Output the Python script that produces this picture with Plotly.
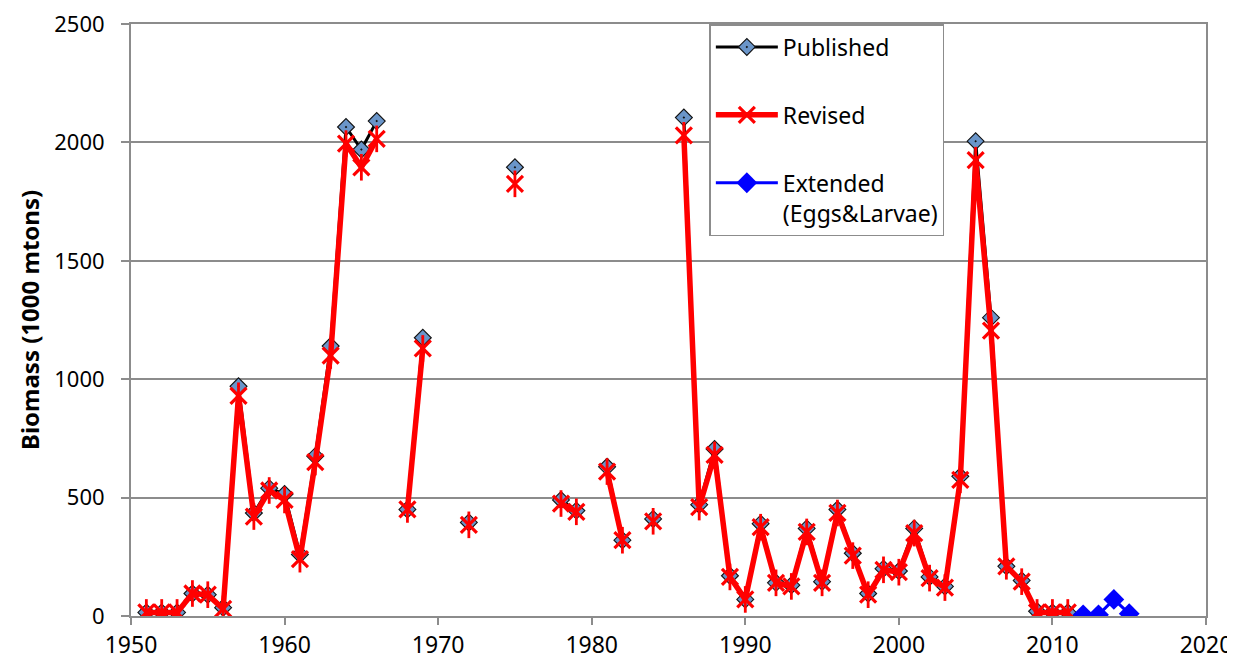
import plotly.graph_objects as go

years = list(range(1951, 2012))

published = [15, 15, 15, 95, 90, 35, 970, 435, 540, 515, 260, 675, 1140, 2065, 1970, 2090,
             None, 450, 1175, None, None, 395, None, None, 1895, None, None, 490, 445, None,
             630, 320, None, 410, None, 2105, 470, 705, 170, 70, 390, 140, 130, 370, 145,
             450, 265, 95, 200, 190, 370, 165, 125, 590, 2005, 1260, 210, 150, 20, 15, 15]

revised = [15, 15, 15, 95, 90, 30, 930, 420, 530, 490, 240, 650, 1100, 1995, 1895, 2015,
           None, 450, 1130, None, None, 385, None, None, 1825, None, None, 475, 440, None,
           610, 320, None, 400, None, 2030, 460, 680, 165, 70, 375, 140, 125, 355, 140,
           435, 255, 90, 195, 185, 350, 160, 120, 575, 1925, 1205, 210, 145, 15, 15, 15]

ext_years = [2012, 2013, 2014, 2015]
extended = [5, 5, 70, 10]

FONT = "Noto Sans"
GRID = "#8c8c8c"
RED = "#ff0000"

fig = go.Figure()

fig.add_trace(go.Scatter(
    x=years, y=published, name="Published", mode="lines+markers",
    line=dict(color="black", width=3), connectgaps=False,
    marker=dict(symbol="diamond-dot", size=13, color="#6a95c9",
                line=dict(color="#111111", width=1.1)),
    legendgroup="a"))

fig.add_trace(go.Scatter(
    x=years, y=revised, name="Revised", mode="lines+markers",
    line=dict(color=RED, width=5.5), connectgaps=False,
    marker=dict(symbol="x-thin-open", size=16, color=RED,
                line=dict(color=RED, width=3.2)),
    legendgroup="b"))

fig.add_trace(go.Scatter(
    x=years, y=revised, name="Revised", mode="markers", showlegend=False,
    marker=dict(symbol="line-ns-open", size=19, color=RED,
                line=dict(color=RED, width=2.8)),
    legendgroup="b", hoverinfo="skip"))

fig.add_trace(go.Scatter(
    x=ext_years, y=extended, name="Extended<br>(Eggs&Larvae)", mode="lines+markers",
    line=dict(color="#0000ff", width=3),
    marker=dict(symbol="diamond", size=16, color="#0000ff"),
    legendgroup="c"))

fig.update_layout(
    width=1235, height=662,
    margin=dict(l=123, r=37, t=16, b=54),
    paper_bgcolor="white", plot_bgcolor="white",
    font=dict(family=FONT, size=22, color="black"),
    showlegend=True,
    legend=dict(x=0.538, y=1.0, xanchor="left", yanchor="top",
                bgcolor="white", bordercolor=GRID, borderwidth=1.5,
                font=dict(family=FONT, size=23), tracegroupgap=35,
                itemwidth=62, valign="top"),
    xaxis=dict(range=[1950, 2020], dtick=10, tick0=1950, showgrid=False,
               showline=True, linecolor=GRID, linewidth=2, mirror=True,
               ticks="outside", ticklen=7, tickcolor=GRID, tickwidth=1.5,
               ticklabeloverflow="allow",
               tickfont=dict(family=FONT, size=23), zeroline=False, automargin=False),
    yaxis=dict(range=[0, 2500], dtick=500, showgrid=True, gridcolor=GRID, gridwidth=1.5,
               showline=True, linecolor=GRID, linewidth=2, mirror=True,
               ticks="outside", ticklen=8, tickcolor=GRID, tickwidth=1.5,
               ticklabelstandoff=12, ticklabeloverflow="allow",
               tickfont=dict(family=FONT, size=22), zeroline=False, automargin=False,
               title=dict(text="<b>Biomass (1000 mtons)</b>", font=dict(family=FONT, size=24),
                          standoff=8)),
)

fig.write_html("out.html")
